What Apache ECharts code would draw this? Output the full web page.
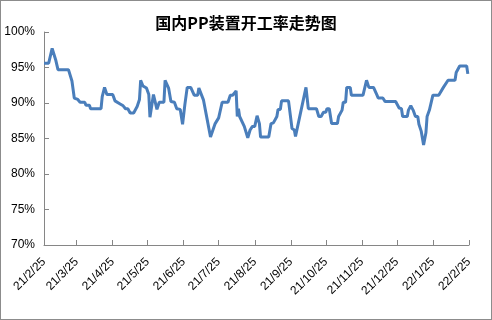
<!DOCTYPE html>
<html>
<head>
<meta charset="utf-8">
<script src="https://cdn.jsdelivr.net/npm/echarts@6/dist/echarts.min.js"></script>
<style>
html,body{margin:0;padding:0;background:#fff;}
#wrap{width:492px;height:320px;box-sizing:border-box;border:1px solid #8c8c8c;}
#chart{width:490px;height:318px;}
</style>
</head>
<body>
<div id="wrap"><div id="chart"></div></div>
<script>
const titleText = '国内PP装置开工率走势图';
const dates = [
 '2021-02-25','2021-03-01','2021-03-04','2021-03-07','2021-03-09','2021-03-18','2021-03-21','2021-03-23','2021-03-26','2021-03-28',
 '2021-04-01','2021-04-02','2021-04-05','2021-04-06','2021-04-15','2021-04-16','2021-04-18','2021-04-20','2021-04-25','2021-04-27',
 '2021-05-01','2021-05-04','2021-05-06','2021-05-08','2021-05-10','2021-05-13','2021-05-16','2021-05-18','2021-05-19','2021-05-21',
 '2021-05-24','2021-05-26','2021-05-27','2021-05-30','2021-06-02','2021-06-04','2021-06-08','2021-06-09','2021-06-12','2021-06-14',
 '2021-06-17','2021-06-19','2021-06-22','2021-06-24','2021-06-26','2021-06-28','2021-07-01','2021-07-04','2021-07-07','2021-07-08',
 '2021-07-12','2021-07-15','2021-07-18','2021-07-22','2021-07-25','2021-07-28','2021-08-02','2021-08-04','2021-08-06','2021-08-09',
 '2021-08-10','2021-08-11','2021-08-12','2021-08-16','2021-08-19','2021-08-21','2021-08-23','2021-08-25','2021-08-27','2021-08-29',
 '2021-08-30','2021-09-06','2021-09-08','2021-09-10','2021-09-13','2021-09-14','2021-09-16','2021-09-17','2021-09-23','2021-09-26',
 '2021-09-28','2021-09-29','2021-10-08','2021-10-10','2021-10-17','2021-10-19','2021-10-21','2021-10-23','2021-10-25','2021-10-26',
 '2021-10-28','2021-10-30','2021-11-04','2021-11-05','2021-11-08','2021-11-09','2021-11-11','2021-11-12','2021-11-15','2021-11-16',
 '2021-11-26','2021-11-29','2021-12-01','2021-12-05','2021-12-08','2021-12-09','2021-12-13','2021-12-15','2021-12-24','2021-12-27',
 '2021-12-29','2021-12-30','2022-01-03','2022-01-04','2022-01-06','2022-01-08','2022-01-10','2022-01-12','2022-01-13','2022-01-15',
 '2022-01-17','2022-01-19','2022-01-20','2022-01-22','2022-01-25','2022-01-30','2022-02-03','2022-02-07','2022-02-13','2022-02-14',
 '2022-02-17','2022-02-23','2022-02-24'
];
const rates = [
 95.6,95.6,97.7,96.1,94.7,94.7,93.1,90.7,90.5,90.1,
 90.1,89.7,89.7,89.2,89.2,90.9,92.2,91.2,91.2,90.3,
 89.9,89.6,89.2,89.2,88.6,88.6,89.5,90.5,93.2,92.4,
 92.1,91.2,88.0,91.2,89.1,90.1,90.1,93.2,92.1,90.2,
 90.1,89.2,89.1,87.0,89.8,92.2,92.2,91.1,91.1,92.1,
 90.4,87.8,85.2,87.1,87.9,90.1,90.1,91.1,91.1,91.7,
 88.1,89.2,88.1,86.7,85.1,86.2,86.7,86.7,88.2,87.1,
 85.2,85.2,87.1,87.2,88.1,89.1,89.1,90.3,90.3,86.4,
 86.2,85.3,92.2,89.2,89.2,88.1,88.1,88.7,88.7,89.2,
 89.2,87.1,87.1,88.1,89.0,90.1,90.1,92.2,92.2,91.1,
 91.1,93.2,92.2,92.2,91.1,90.7,90.7,90.2,90.2,89.3,
 89.2,88.1,88.1,89.0,89.6,89.0,88.1,88.1,87.0,86.0,
 84.1,85.8,88.1,89.0,91.1,91.1,92.2,93.2,93.2,94.3,
 95.2,95.2,94.1
];
const tickLabels = ['21/2/25','21/3/25','21/4/25','21/5/25','21/6/25','21/7/25','21/8/25','21/9/25','21/10/25','21/11/25','21/12/25','22/1/25','22/2/25'];
const yMin = 70, yMax = 100, yStep = 5;

const DAY = 86400000;
function dayNum(y,m,d){return Math.round(Date.UTC(y,m-1,d)/DAY);}
function parseIso(s){const p=s.split('-').map(Number);return dayNum(p[0],p[1],p[2]);}
function parseTick(s){const p=s.split('/').map(Number);return dayNum(2000+p[0],p[1],p[2]);}
const tickVals = tickLabels.map(parseTick);
const seriesData = dates.map((d,i)=>[parseIso(d), rates[i]]);
function fmt(v){const d=new Date(v*DAY);return (d.getUTCFullYear()%100)+'/'+(d.getUTCMonth()+1)+'/'+d.getUTCDate();}

const chart = echarts.init(document.getElementById('chart'), null, {renderer:'canvas'});
const axisColor = '#868686';
const labelFont = '"Liberation Sans", "DejaVu Sans", sans-serif';
chart.setOption({
  animation:false,
  title:{text:titleText,left:'center',top:9,textStyle:{fontFamily:'"Noto Sans CJK SC", sans-serif',fontSize:16,fontWeight:'bold',color:'#000'}},
  grid:{left:43,right:22,top:31,bottom:74},
  xAxis:{
    type:'value',
    min:tickVals[0], max:tickVals[tickVals.length-1],
    axisLine:{lineStyle:{color:axisColor,width:1}},
    axisTick:{show:true,inside:true,length:5,customValues:tickVals,lineStyle:{color:axisColor}},
    axisLabel:{customValues:tickVals,rotate:45,margin:15,formatter:fmt,color:'#000',fontSize:12,fontFamily:labelFont,hideOverlap:false,showMinLabel:true,showMaxLabel:true},
    splitLine:{show:false}
  },
  yAxis:{
    type:'value',min:yMin,max:yMax,interval:yStep,
    axisLine:{show:true,lineStyle:{color:axisColor,width:1}},
    axisTick:{show:true,inside:true,length:5,lineStyle:{color:axisColor}},
    axisLabel:{formatter:'{value}%',color:'#000',fontSize:12,fontFamily:labelFont,margin:9},
    splitLine:{show:false}
  },
  series:[{
    type:'line',data:seriesData,showSymbol:false,
    lineStyle:{color:'#4a7ebb',width:3},
    itemStyle:{color:'#4a7ebb'}
  }]
});
</script>
</body>
</html>
